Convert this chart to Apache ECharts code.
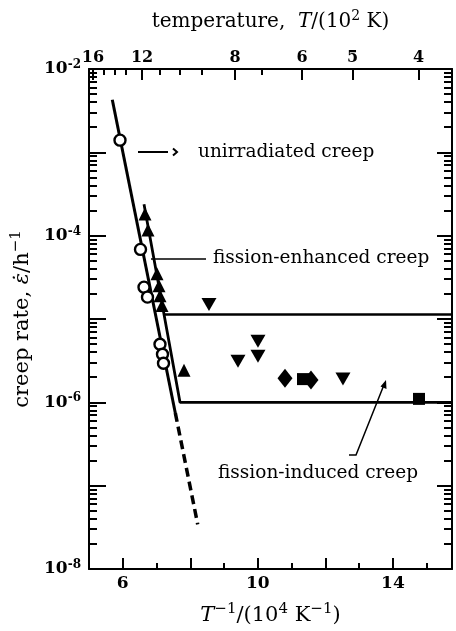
<!DOCTYPE html>
<html><head><meta charset="utf-8">
<script src="https://cdn.jsdelivr.net/npm/echarts@6/dist/echarts.min.js"></script>
<style>html,body{margin:0;padding:0;background:#fff}#c{width:456px;height:631px}</style>
</head><body><div id="c"></div>
<script>
// ---- axis definitions ----
const xMin = 5, xMax = 15.75;
const xMajorTicks = [6, 8, 10, 12, 14];
const xMinorTicks = [7, 9, 11, 13, 15];
const xLabels = [6, 10, 14];
const topTickLabels = ['16', '12', '8', '6', '5', '4'];
const topMajorPos = [5.118, 6.570, 9.323, 11.307, 12.803, 14.758];
const topMinorPos = [5.444, 5.755, 6.096, 7.088, 7.695, 8.346, 10.122];
const yMin = 1e-8, yMax = 1e-2;
const yLabelExponents = [-2, -4, -6, -8];
const yDecades = [-8, -7, -6, -5, -4, -3];
const minorMult = [2, 3, 4, 5, 6, 7, 8, 9];

// ---- data ----
const unirradiated = [[5.918,1.40e-3],[6.525,6.84e-5],[6.629,2.41e-5],[6.732,1.83e-5],[7.102,4.97e-6],[7.176,3.77e-6],[7.206,2.94e-6]];
const upTriangles = [[6.658,1.82e-4],[6.747,1.17e-4],[7.014,3.49e-5],[7.073,2.51e-5],[7.102,1.90e-5],[7.162,1.45e-5],[7.813,2.43e-6]];
const downTriangles = [[8.553,1.49e-5],[9.412,3.11e-6],[10.004,5.39e-6],[10.004,3.57e-6],[12.521,1.90e-6]];
const diamonds = [[10.804,1.95e-6],[11.574,1.85e-6]];
const squares = [[11.337,1.90e-6],[14.772,1.10e-6]];
const unirrLineSolid = [[5.690,4.27e-3],[7.556,7.46e-7]];
const unirrLineDashed = [[7.556,7.46e-7],[8.219,3.44e-8]];
const enhancedLine = [[7.221,1.13e-5],[15.75,1.13e-5]];
const inducedLine = [[6.629,2.39e-4],[7.695,1.0e-6],[15.75,1.0e-6]];

const SERIF = '"DejaVu Serif", serif';
const minorLogTicks = [];
yDecades.forEach(d => minorMult.forEach(m => minorLogTicks.push(d + Math.log10(m))));

const supRich = {
  b: {fontFamily: SERIF, fontSize: 17, fontWeight: 'bold', color: '#000', lineHeight: 20},
  s: {fontFamily: SERIF, fontSize: 12, fontWeight: 'bold', color: '#000', verticalAlign: 'top', lineHeight: 20}
};
function nameRich(size, sup) {
  const lh = size + 6;
  return {
    n: {fontFamily: SERIF, fontSize: size, color: '#000', lineHeight: lh},
    i: {fontFamily: SERIF, fontSize: size, fontStyle: 'italic', color: '#000', lineHeight: lh},
    s: {fontFamily: SERIF, fontSize: sup, color: '#000', verticalAlign: 'top', lineHeight: lh}
  };
}

const axLine = {show: true, onZero: false, lineStyle: {color: '#000', width: 2}};
const noSplit = {show: false};

function baseX(extra) {
  return Object.assign({type: 'value', min: xMin, max: xMax, gridIndex: 0, splitLine: noSplit}, extra);
}
function baseYLog(extra) {
  return Object.assign({type: 'log', logBase: 10, min: yMin, max: yMax, splitLine: noSplit}, extra);
}
function baseYVal(extra) {
  return Object.assign({type: 'value', min: -8, max: -2, splitLine: noSplit, axisLine: {show: false}, axisLabel: {show: false}}, extra);
}

const chart = echarts.init(document.getElementById('c'), null, {renderer: 'canvas'});
chart.setOption({
  animation: false,
  backgroundColor: '#fff',
  grid: {left: 89, right: 4, top: 69, bottom: 59, containLabel: false},
  xAxis: [
    baseX({position: 'bottom', axisLine: axLine,
      axisTick: {show: true, inside: true, length: 11, customValues: xMajorTicks, lineStyle: {color: '#000', width: 2}},
      axisLabel: {show: true, customValues: xLabels, margin: 6, color: '#000', fontFamily: SERIF, fontSize: 17, fontWeight: 'bold'},
      name: '{i|T}{s|−1}{n|/(10}{s|4}{n| K}{s|−1}{n|)}', nameLocation: 'middle', nameGap: 33,
      nameTextStyle: {rich: nameRich(21, 15)}}),
    baseX({position: 'bottom', axisLine: {show: false},
      axisTick: {show: true, inside: true, length: 6, customValues: xMinorTicks, lineStyle: {color: '#000', width: 2}},
      axisLabel: {show: false}}),
    baseX({position: 'top', axisLine: axLine,
      axisTick: {show: true, inside: true, length: 11, customValues: topMajorPos, lineStyle: {color: '#000', width: 2}},
      axisLabel: {show: true, customValues: topMajorPos, margin: 3, color: '#000', fontFamily: SERIF, fontSize: 16, fontWeight: 'bold',
        formatter: v => { let bi = 0, bd = 1e9; topMajorPos.forEach((p, i) => { const d = Math.abs(p - v); if (d < bd) { bd = d; bi = i; } }); return topTickLabels[bi]; }},
      name: '{n|temperature,  }{i|T}{n|/(10}{s|2}{n| K)}', nameLocation: 'middle', nameGap: 34,
      nameTextStyle: {rich: nameRich(20, 14)}}),
    baseX({position: 'top', axisLine: {show: false},
      axisTick: {show: true, inside: true, length: 6, customValues: topMinorPos, lineStyle: {color: '#000', width: 2}},
      axisLabel: {show: false}})
  ],
  yAxis: [
    baseYLog({position: 'left', axisLine: axLine,
      axisTick: {show: true, inside: true, length: 17, lineStyle: {color: '#000', width: 2}},
      axisLabel: {show: true, margin: 8, formatter: v => { const e = Math.round(Math.log10(v)); return yLabelExponents.indexOf(e) >= 0 ? '{b|10}{s|-' + (-e) + '}' : ''; }, rich: supRich},
      name: '{n|creep rate, }{i|ε̇}{n|/h}{s|−1}', nameLocation: 'middle', nameGap: 53, nameRotate: 90,
      nameTextStyle: {rich: nameRich(21, 15)}}),
    baseYLog({position: 'right', axisLine: axLine,
      axisTick: {show: true, inside: true, length: 15, lineStyle: {color: '#000', width: 2}},
      axisLabel: {show: false}}),
    baseYVal({position: 'left',
      axisTick: {show: true, inside: true, length: 8, customValues: minorLogTicks, lineStyle: {color: '#000', width: 2}}}),
    baseYVal({position: 'right',
      axisTick: {show: true, inside: true, length: 8, customValues: minorLogTicks, lineStyle: {color: '#000', width: 2}}})
  ],
  series: [
    {type: 'line', data: unirrLineSolid, symbol: 'none', lineStyle: {color: '#000', width: 3, opacity: 1}, z: 2},
    {type: 'line', data: unirrLineDashed, symbol: 'none', lineStyle: {color: '#000', width: 3.5, type: [9, 5], opacity: 1}, z: 2},
    {type: 'line', data: enhancedLine, symbol: 'none', lineStyle: {color: '#000', width: 2.5, opacity: 1}, z: 2},
    {type: 'line', data: inducedLine, symbol: 'none', lineStyle: {color: '#000', width: 2.8, opacity: 1}, z: 2},
    {type: 'scatter', data: upTriangles, symbol: 'triangle', symbolSize: 13, itemStyle: {color: '#000', opacity: 1}, z: 3},
    {type: 'scatter', data: downTriangles, symbol: 'path://M0,0 L10,0 L5,9 Z', symbolSize: [15, 13], itemStyle: {color: '#000', opacity: 1}, z: 3},
    {type: 'scatter', data: squares, symbol: 'rect', symbolSize: 12, itemStyle: {color: '#000', opacity: 1}, z: 3},
    {type: 'scatter', data: diamonds, symbol: 'diamond', symbolSize: [15, 19], itemStyle: {color: '#000', opacity: 1}, z: 3},
    {type: 'scatter', data: unirradiated, symbol: 'circle', symbolSize: 11, itemStyle: {color: '#fff', borderColor: '#000', borderWidth: 2.4, opacity: 1}, z: 4}
  ],
  graphic: [
    {type: 'text', style: {text: 'unirradiated creep', x: 198, y: 152, fill: '#000', font: '18.5px "DejaVu Serif", serif', textVerticalAlign: 'middle'}},
    {type: 'line', shape: {x1: 138, y1: 152, x2: 168, y2: 152}, style: {stroke: '#000', lineWidth: 2}},
    {type: 'polyline', shape: {points: [[173, 148.5], [177, 152], [173, 155.5]]}, style: {stroke: '#000', lineWidth: 2, fill: null}},
    {type: 'text', style: {text: 'fission-enhanced creep', x: 213, y: 258, fill: '#000', font: '18.5px "DejaVu Serif", serif', textVerticalAlign: 'middle'}},
    {type: 'line', shape: {x1: 151, y1: 259, x2: 206, y2: 259}, style: {stroke: '#000', lineWidth: 1.5}},
    {type: 'text', style: {text: 'fission-induced creep', x: 218, y: 473, fill: '#000', font: '18.5px "DejaVu Serif", serif', textVerticalAlign: 'middle'}},
    {type: 'polyline', shape: {points: [[349, 455], [356, 455], [383.5, 386]]}, style: {stroke: '#000', lineWidth: 1.5, fill: null}},
    {type: 'polygon', shape: {points: [[386, 380], [386.5, 389], [380.5, 386.5]]}, style: {fill: '#000'}}
  ]
});
</script>
</body></html>
